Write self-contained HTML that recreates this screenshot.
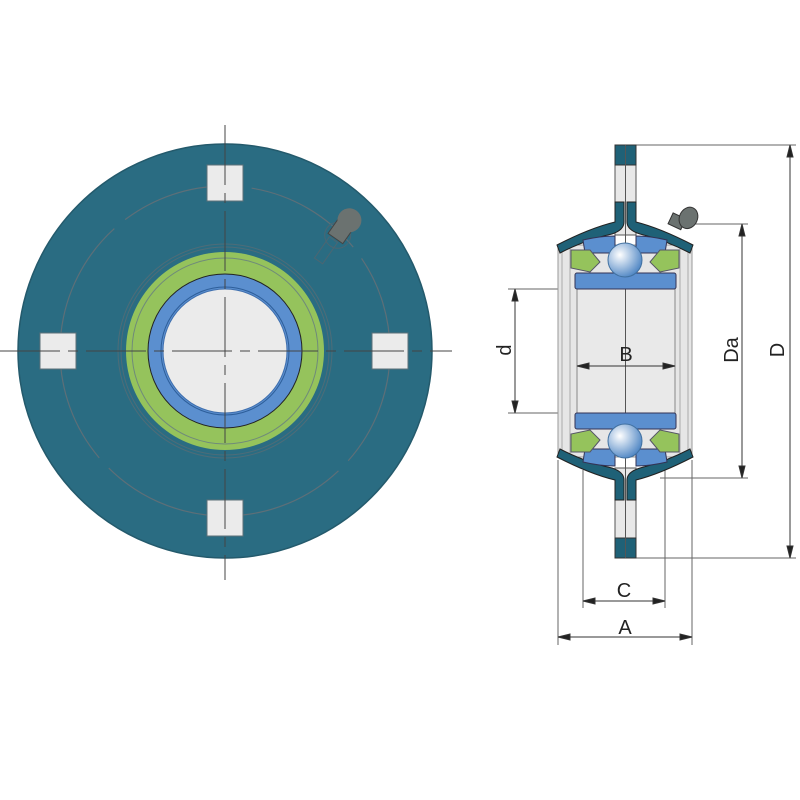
<!DOCTYPE html>
<html><head><meta charset="utf-8"><style>
html,body{margin:0;padding:0;background:#fff}
svg{display:block}
text{font-family:"Liberation Sans",sans-serif;fill:#222}
</style></head><body>
<svg width="800" height="800" viewBox="0 0 800 800" xmlns="http://www.w3.org/2000/svg">
<circle cx="225" cy="351" r="207" fill="#2a6c82" stroke="#245a6c" stroke-width="1.5"/>
<circle cx="225" cy="351" r="165" fill="none" stroke="#5d6f78" stroke-width="1.2" stroke-dasharray="120 14"/>
<rect x="207" y="165" width="36" height="36" fill="#ebebeb" stroke="#5d7078"/>
<rect x="207" y="500" width="36" height="36" fill="#ebebeb" stroke="#5d7078"/>
<rect x="40" y="333" width="36" height="36" fill="#ebebeb" stroke="#5d7078"/>
<rect x="372" y="333" width="36" height="36" fill="#ebebeb" stroke="#5d7078"/>
<circle cx="225" cy="351" r="107" fill="none" stroke="#4e6c78" stroke-width="1"/>
<circle cx="225" cy="351" r="104" fill="none" stroke="#4e6c78" stroke-width="1"/>
<circle cx="225" cy="351" r="99" fill="#95c35c"/>
<circle cx="225" cy="351" r="93" fill="none" stroke="#6f8a7a" stroke-width="1"/>
<circle cx="225" cy="351" r="77" fill="#5b8fcf" stroke="#222" stroke-width="1"/>
<circle cx="225" cy="351" r="64" fill="none" stroke="#2d5e9a" stroke-width="1"/>
<circle cx="225" cy="351" r="62" fill="#ebebeb" stroke="#3f6fae" stroke-width="1"/>
<g transform="translate(340,232) rotate(35)">
<rect x="-6" y="10" width="10" height="26" fill="none" stroke="#4b6672" stroke-width="1"/>
<circle cx="0" cy="4" r="13" fill="none" stroke="#4b6672" stroke-width="1"/>
<rect x="-9" y="-10" width="18" height="18" fill="#6b7270" stroke="#444" stroke-width="1"/>
<circle cx="1" cy="-15" r="12" fill="#6b7270"/>
</g>
<g stroke="#444" stroke-width="1">
<line x1="225" y1="125" x2="225" y2="580" stroke-dasharray="60 8 10 8"/>
<line x1="0" y1="351" x2="452" y2="351" stroke-dasharray="60 8 10 8"/>
</g>
<g stroke="#666" stroke-width="1">
<line x1="636" y1="145" x2="796" y2="145"/>
<line x1="690" y1="224" x2="748" y2="224"/>
<line x1="660" y1="478" x2="748" y2="478"/>
<line x1="636" y1="558" x2="796" y2="558"/>
<line x1="508" y1="289" x2="577" y2="289"/>
<line x1="508" y1="413" x2="577" y2="413"/>
<line x1="558" y1="460" x2="558" y2="645"/>
<line x1="692" y1="460" x2="692" y2="645"/>
<line x1="583" y1="470" x2="583" y2="608"/>
<line x1="665" y1="470" x2="665" y2="608"/>
</g>
<rect x="558" y="245" width="134" height="212" fill="#e6e6e6" stroke="#999"/>
<line x1="562" y1="245" x2="562" y2="457" stroke="#aaa"/>
<line x1="570" y1="245" x2="570" y2="457" stroke="#aaa"/>
<line x1="680" y1="245" x2="680" y2="457" stroke="#aaa"/>
<line x1="688" y1="245" x2="688" y2="457" stroke="#aaa"/>
<rect x="577" y="289" width="98" height="124" fill="#e9e9e9" stroke="#888"/>
<rect x="615" y="145" width="21" height="90" fill="#e8e8e8" stroke="#555"/>
<rect x="615" y="468" width="21" height="90" fill="#e8e8e8" stroke="#555"/>
<rect x="615" y="145" width="21" height="20" fill="#1f6177" stroke="#333"/>
<rect x="615" y="538" width="21" height="20" fill="#1f6177" stroke="#333"/>
<line x1="625.5" y1="145" x2="625.5" y2="558" stroke="#555"/>
<path d="M557,245 Q590,228 615,222 L615,202 L624,202 L624,222 Q624,230 612,234 Q585,240 560,253 Z" fill="#1f6177" stroke="#222"/>
<path d="M693,245 Q660,228 636,222 L636,202 L627,202 L627,222 Q627,230 640,234 Q665,240 690,253 Z" fill="#1f6177" stroke="#222"/>
<path d="M557,457 Q590,474 615,480 L615,500 L624,500 L624,480 Q624,472 612,468 Q585,462 560,449 Z" fill="#1f6177" stroke="#222"/>
<path d="M693,457 Q660,474 636,480 L636,500 L627,500 L627,480 Q627,472 640,468 Q665,462 690,449 Z" fill="#1f6177" stroke="#222"/>
<path d="M583,240 Q600,236 615,236 L615,253 L585,253 Z" fill="#5b8fcf" stroke="#335"/>
<path d="M667,240 Q650,236 636,236 L636,253 L665,253 Z" fill="#5b8fcf" stroke="#335"/>
<path d="M571,250 L590,250 L600,262 L590,272 L571,268 Z" fill="#95c35c" stroke="#556"/>
<path d="M679,250 L660,250 L650,262 L660,272 L679,268 Z" fill="#95c35c" stroke="#556"/>
<rect x="575" y="273" width="101" height="16" rx="2" fill="#5b8fcf" stroke="#335"/>
<path d="M583,462 Q600,466 615,466 L615,449 L585,449 Z" fill="#5b8fcf" stroke="#335"/>
<path d="M667,462 Q650,466 636,466 L636,449 L665,449 Z" fill="#5b8fcf" stroke="#335"/>
<path d="M571,452 L590,452 L600,440 L590,430 L571,434 Z" fill="#95c35c" stroke="#556"/>
<path d="M679,452 L660,452 L650,440 L660,430 L679,434 Z" fill="#95c35c" stroke="#556"/>
<rect x="575" y="413" width="101" height="16" rx="2" fill="#5b8fcf" stroke="#335"/>
<defs><radialGradient id="bg" cx="0.35" cy="0.35" r="0.7"><stop offset="0" stop-color="#ffffff"/><stop offset="1" stop-color="#4f86c4"/></radialGradient></defs>
<circle cx="625" cy="260" r="17" fill="url(#bg)" stroke="#4070a0"/>
<circle cx="625" cy="441" r="17" fill="url(#bg)" stroke="#4070a0"/>
<g transform="translate(684,218) rotate(25)">
<rect x="-12" y="0" width="14" height="12" fill="#6b7270" stroke="#333"/>
<ellipse cx="4" cy="-2" rx="9" ry="11" fill="#6b7270" stroke="#333"/>
</g>
<g stroke="#333" stroke-width="1" fill="#222">
<line x1="790" y1="145" x2="790" y2="558"/>
<path d="M790,145 l-3,12 h6 z M790,558 l-3,-12 h6 z"/>
<line x1="742" y1="224" x2="742" y2="478"/>
<path d="M742,224 l-3,12 h6 z M742,478 l-3,-12 h6 z"/>
<line x1="515" y1="289" x2="515" y2="413"/>
<path d="M515,289 l-3,12 h6 z M515,413 l-3,-12 h6 z"/>
<line x1="577" y1="366" x2="675" y2="366"/>
<path d="M577,366 l12,-3 v6 z M675,366 l-12,-3 v6 z"/>
<line x1="583" y1="601" x2="665" y2="601"/>
<path d="M583,601 l12,-3 v6 z M665,601 l-12,-3 v6 z"/>
<line x1="558" y1="637" x2="692" y2="637"/>
<path d="M558,637 l12,-3 v6 z M692,637 l-12,-3 v6 z"/>
</g>
<text x="626" y="361" font-size="20" text-anchor="middle">B</text>
<text x="624" y="597" font-size="20" text-anchor="middle">C</text>
<text x="625" y="634" font-size="20" text-anchor="middle">A</text>
<text transform="translate(511,350) rotate(-90)" font-size="20" text-anchor="middle">d</text>
<text transform="translate(738,350) rotate(-90)" font-size="20" text-anchor="middle">Da</text>
<text transform="translate(784,350) rotate(-90)" font-size="20" text-anchor="middle">D</text>
</svg>
</body></html>
